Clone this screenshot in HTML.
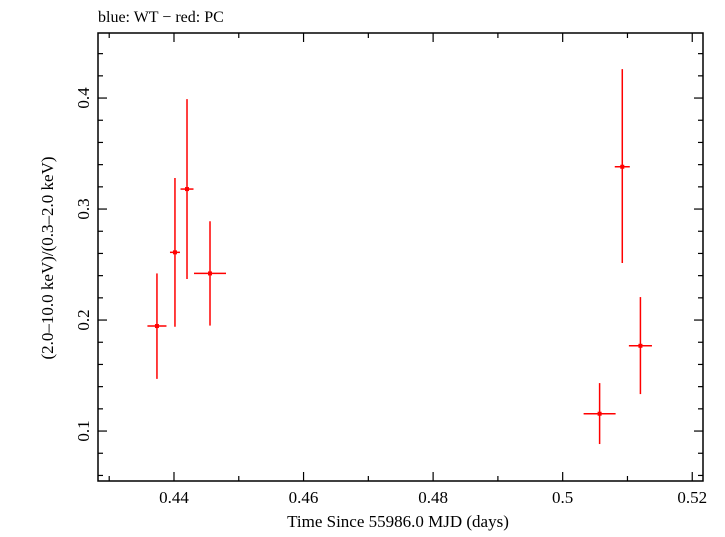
<!DOCTYPE html>
<html><head><meta charset="utf-8"><style>
html,body{margin:0;padding:0;background:#fff;}
svg text{font-family:"Liberation Serif",serif;fill:#000;}
</style></head><body>
<svg id="chart" width="725" height="532" viewBox="0 0 725 532" xmlns="http://www.w3.org/2000/svg">
<text x="98" y="22" font-size="16">blue: WT − red: PC</text>
<rect x="98" y="33" width="605" height="448" fill="none" stroke="#000" stroke-width="1.5"/>
<g id="ticks"></g>
<g id="marks"></g>
<text x="398" y="527" font-size="17" text-anchor="middle">Time Since 55986.0 MJD (days)</text>
<text transform="translate(53,258) rotate(-90)" font-size="17" text-anchor="middle">(2.0–10.0 keV)/(0.3–2.0 keV)</text>
</svg>
<script>
const times = [0.43737, 0.44015, 0.44201, 0.44556, 0.5057, 0.5092, 0.5120];
const timeErr = [0.00147, 0.00077, 0.0010, 0.00247, 0.00247, 0.00116, 0.00178];
const ratios = [0.1946, 0.261, 0.318, 0.242, 0.1156, 0.3381, 0.1768];
const ratioHi = [0.242, 0.328, 0.399, 0.289, 0.1432, 0.4261, 0.2207];
const ratioLo = [0.147, 0.194, 0.237, 0.195, 0.0883, 0.2514, 0.1333];
const xTickLabels = ["0.44", "0.46", "0.48", "0.5", "0.52"];
const yTickLabels = ["0.1", "0.2", "0.3", "0.4"];

const L=98,R=703,T=33,B=481;
const xMin=0.42827,xMax=0.52166,yMin=0.0550,yMax=0.4586;
const xs=v=>L+(v-xMin)/(xMax-xMin)*(R-L);
const ys=v=>B-(v-yMin)/(yMax-yMin)*(B-T);
const NS="http://www.w3.org/2000/svg";
function mk(tag,attrs,parent){const e=document.createElementNS(NS,tag);for(const k in attrs)e.setAttribute(k,attrs[k]);parent.appendChild(e);return e;}
const tg=document.getElementById('ticks');
// x ticks every 0.01 (major at 0.02)
for(let i=43;i<=52;i++){
  const v=i/100,x=xs(v),major=(i%2===0),len=major?9:5;
  const a=mk('line',{x1:x,x2:x,y1:B,y2:B-len,stroke:'#000','stroke-width':1.2},tg);
  
  
  const b=mk('line',{x1:x,x2:x,y1:T,y2:T+len,stroke:'#000','stroke-width':1.2},tg);
  
  
}
xTickLabels.forEach(s=>{
  const t=mk('text',{x:xs(parseFloat(s)),y:503,'font-size':17,'text-anchor':'middle'},tg);
  t.textContent=s;
  
  
});
// y ticks every 0.02 (major at 0.1)
for(let i=3;i<=22;i++){
  const v=i/50,y=ys(v),major=(i%5===0),len=major?9:5;
  if(y<T||y>B)continue;
  const a=mk('line',{x1:L,x2:L+len,y1:y,y2:y,stroke:'#000','stroke-width':1.2},tg);
  
  
  const b=mk('line',{x1:R,x2:R-len,y1:y,y2:y,stroke:'#000','stroke-width':1.2},tg);
  
  
}
yTickLabels.forEach(s=>{
  const y=ys(parseFloat(s));
  const t=mk('text',{transform:`translate(89,${y}) rotate(-90)`,'font-size':17,'text-anchor':'middle'},tg);
  t.textContent=s;
  
  
});
const mg=document.getElementById('marks');
times.forEach((t,i)=>{
  const g=mk('g',{},mg);
  
  
  const x=xs(t),y=ys(ratios[i]);
  mk('line',{x1:xs(t-timeErr[i]),x2:xs(t+timeErr[i]),y1:y,y2:y,stroke:'#f00','stroke-width':1.5},g);
  mk('line',{x1:x,x2:x,y1:ys(ratioHi[i]),y2:ys(ratioLo[i]),stroke:'#f00','stroke-width':1.5},g);
  mk('rect',{x:x-2,y:y-2,width:4,height:4,fill:'#f00'},g);
});
</script>
</body></html>
